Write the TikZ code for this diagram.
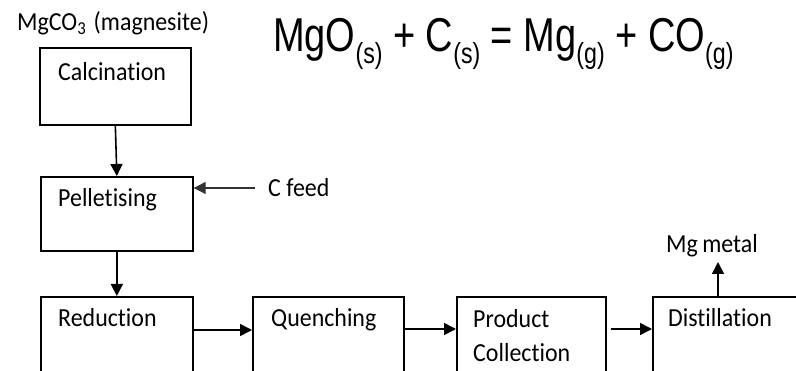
\documentclass[tikz,border=0pt]{standalone}
\usepackage{fontspec}
\setmainfont[FakeStretch=0.92, Ligatures=NoCommon]{Carlito}
\newfontfamily\eqfont[FakeStretch=0.8]{Liberation Sans}
\usetikzlibrary{arrows.meta}
\begin{document}
\begin{tikzpicture}[x=1pt,y=-1pt,
  box/.style={draw=black, line width=1.7pt, anchor=north west, inner sep=0pt},
  txt/.style={anchor=base west, inner sep=0pt, font=\fontsize{26}{34}\selectfont},
  arr/.style={draw=black, line width=1.6pt, -{Triangle[length=12pt,width=12pt]}}]
\clip (0,0) rectangle (796,371);
\fill[white] (0,0) rectangle (796,371);
% boxes
\node[box, minimum width=151pt, minimum height=77pt] (calc) at (39,47) {};
\node[box, minimum width=152pt, minimum height=74pt] (pell) at (40,176) {};
\node[box, minimum width=152pt, minimum height=100pt] (red) at (40,296) {};
\node[box, minimum width=151pt, minimum height=100pt] (quen) at (252,296) {};
\node[box, minimum width=149pt, minimum height=100pt] (prod) at (456,296) {};
\node[box, minimum width=160pt, minimum height=100pt] (dist) at (652,296) {};
% texts
\node[txt] (mgco) at (17,31) {MgCO\textsubscript{3}\hspace{2pt} (magnesite)};
\node[txt] (calcT) at (58,81) {Calcination};
\node[txt] (pellT) at (58,207) {Pelletising};
\node[txt] (cfeed) at (268,197) {C feed};
\node[txt] (redT) at (58,327) {Reduction};
\node[txt] (quenT) at (271,327) {Quenching};
\node[txt, align=left, anchor=north west] (prodT) at (473,309) {Product\\Collection};
\node[txt] (distT) at (668,327) {Distillation};
\node[txt] (mgm) at (666,253) {Mg\hspace{-1pt} metal};
% equation
\node[anchor=base west, inner sep=0pt] (eq) at (273,51.7) {\eqfont\fontsize{47.5}{50}\selectfont
  MgO\raisebox{-12pt}{\fontsize{29}{30}\selectfont(s)} + C\raisebox{-12pt}{\fontsize{29}{30}\selectfont(s)} = Mg\raisebox{-12pt}{\fontsize{29}{30}\selectfont(g)} + CO\raisebox{-12pt}{\fontsize{29}{30}\selectfont(g)}};
% connectors
\draw[arr] (calc.south) -- (pell.north);
\draw[arr] (pell.south) -- (red.north);
\coordinate (cstart) at (255,188);
\draw[arr, line width=1.1pt, draw=black!80] (cstart) -- (cstart -| pell.east);
\draw[arr] ([yshift=-34pt]red.north east) -- ([yshift=-34pt]quen.north west);
\draw[arr] ([yshift=-33pt]quen.north east) -- ([yshift=-33pt]prod.north west);
\draw[arr] ([xshift=4pt,yshift=-33pt]prod.north east) -- ([yshift=-33pt]dist.north west);
\draw[arr] ([xshift=66pt]dist.north west) -- ++(0,-34);
\end{tikzpicture}
\end{document}
